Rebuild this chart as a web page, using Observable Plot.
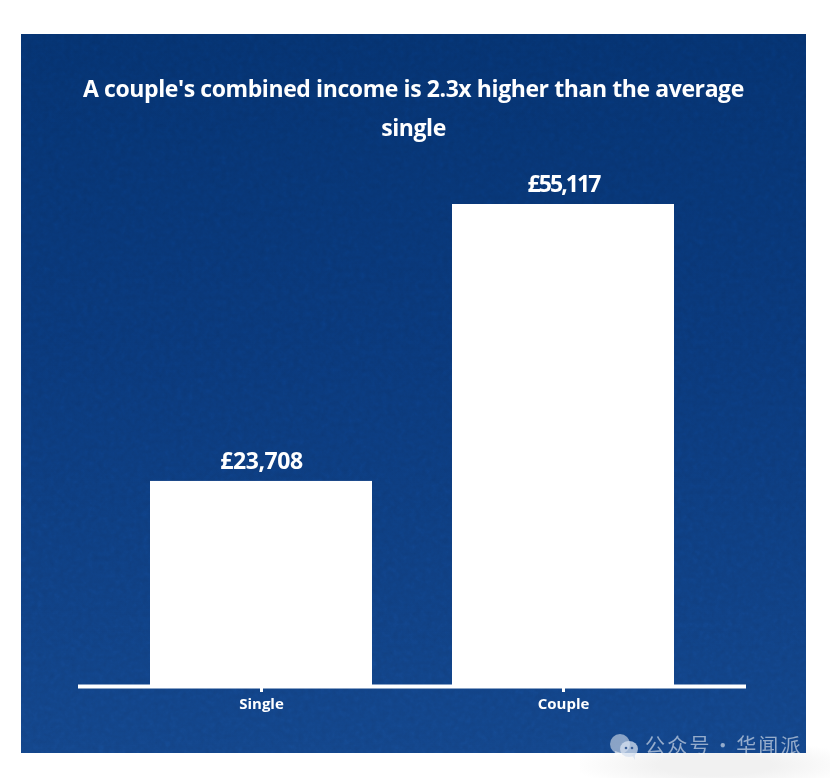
<!DOCTYPE html>
<html>
<head>
<meta charset="utf-8">
<script src="https://cdn.jsdelivr.net/npm/d3@7"></script>
<script src="https://cdn.jsdelivr.net/npm/@observablehq/plot@0.6"></script>
<style>
  html,body{margin:0;padding:0;background:#fff;}
  #stage{position:relative;width:830px;height:778px;overflow:hidden;font-family:"Open Sans",sans-serif;}
  #glow{position:absolute;left:580px;top:740px;width:270px;height:50px;background:radial-gradient(ellipse at center,#f1f1f1 30%,#ffffff 75%);}
  #panel{position:absolute;left:21px;top:34px;width:785px;height:719px;background:linear-gradient(180deg,#05326f 0%,#0a3879 45%,#134488 100%);overflow:hidden;}
  #grain{position:absolute;left:0;top:0;width:785px;height:719px;opacity:.18;mix-blend-mode:overlay;}
  #title{position:absolute;left:21px;top:69px;width:785px;text-align:center;color:#fff;font-size:23px;font-weight:700;line-height:39px;letter-spacing:-.41px;}
  #chart{position:absolute;left:0;top:0;}
  #mark{position:absolute;left:610px;top:733px;color:rgba(255,255,255,.55);font-family:"Noto Sans CJK SC",sans-serif;font-size:20px;letter-spacing:2.2px;word-spacing:-5.5px;line-height:24px;white-space:nowrap;padding-left:35px;}
  #mark svg{position:absolute;left:0;top:-1px;}
</style>
</head>
<body>
<div id="stage">
  <div id="glow"></div>
  <div id="panel">
    <svg id="grain" xmlns="http://www.w3.org/2000/svg">
      <filter id="n"><feTurbulence type="fractalNoise" baseFrequency="0.18" numOctaves="3" seed="4"/><feColorMatrix type="saturate" values="0"/></filter>
      <rect width="785" height="719" filter="url(#n)"/>
    </svg>
  </div>
  <div id="title">A couple's combined income is 2.3x higher than the average<br>single</div>
  <div id="chart"></div>
  <div id="mark"><svg width="30" height="28" viewBox="0 0 30 28"><ellipse cx="10" cy="12" rx="10" ry="10" fill="rgba(255,255,255,.5)"/><path d="M5 19 L4 25 L11 21Z" fill="rgba(255,255,255,.5)"/><ellipse cx="19" cy="17" rx="9" ry="8" fill="rgba(215,225,240,.75)"/><path d="M22 23 L25 28 L25 21Z" fill="rgba(215,225,240,.75)"/><circle cx="16" cy="16" r="1.3" fill="#3a5f98"/><circle cx="22" cy="16" r="1.3" fill="#3a5f98"/></svg>公众号 · 华闻派</div>
</div>
<script>
const categories = ["Single", "Couple"];
const incomes = [23708, 55117];
const valueLabels = ["£23,708", "£55,117"];
const axisFloor = 450;

const rows = categories.map((c, i) => ({category: c, income: incomes[i], label: valueLabels[i]}));

const chart = Plot.plot({
  width: 830,
  height: 778,
  marginTop: 204,
  marginBottom: 92,
  marginLeft: 78,
  marginRight: 84,
  style: {background: "transparent", fontFamily: "'Open Sans',sans-serif", overflow: "visible"},
  x: {domain: categories, paddingInner: 0.265, paddingOuter: 0.238, label: null},
  y: {domain: [axisFloor, incomes[1]], axis: null},
  marks: [
    Plot.barY(rows, {x: "category", y1: axisFloor, y2: "income", fill: "#fff"}),
    Plot.ruleY([axisFloor], {stroke: "#fff", strokeWidth: 4}),
    Plot.axisX({
      anchor: "bottom",
      label: null,
      tickSize: 6,
      tickPadding: 6,
      stroke: "#fff",
      strokeWidth: 3,
      strokeOpacity: 1,
      fill: "#fff",
      fontSize: 15,
      fontWeight: 700,
      letterSpacing: "-0.3px"
    }),
    Plot.text(rows, {
      x: "category",
      y: "income",
      text: "label",
      dy: -20,
      fill: "#fff",
      fontSize: 23,
      fontWeight: 700
    })
  ]
});
chart.querySelectorAll("text").forEach(t => {
  if (t.textContent === valueLabels[0]) t.style.letterSpacing = "-0.4px";
  if (t.textContent === valueLabels[1]) t.style.letterSpacing = "-1.9px";
});
document.getElementById("chart").appendChild(chart);
</script>
</body>
</html>
